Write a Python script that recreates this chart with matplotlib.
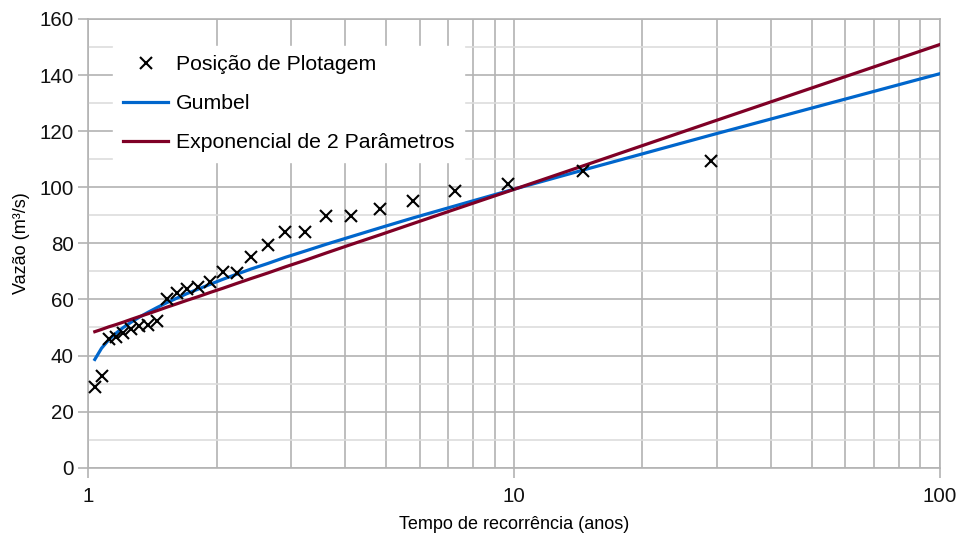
import matplotlib
matplotlib.use("Agg")
import matplotlib.pyplot as plt
from matplotlib.ticker import FixedLocator, NullFormatter, MultipleLocator
import numpy as np

plt.rcParams['font.family'] = ['Liberation Sans', 'DejaVu Sans']

# tempo de recorrencia (Weibull) e vazoes observadas, ordenadas
T_obs = [1.0357, 1.0741, 1.1154, 1.16, 1.2083, 1.2609, 1.3182, 1.381, 1.45,
         1.5263, 1.6111, 1.7059, 1.8125, 1.9333, 2.0714, 2.2308, 2.4167,
         2.6364, 2.9, 3.2222, 3.625, 4.1429, 4.8333, 5.8, 7.25, 9.6667,
         14.5, 29.0]
Q_obs = [28.9, 32.7, 45.8, 46.7, 48.1, 49.4, 50.5, 50.9, 52.3,
         60.1, 62.4, 63.6, 64.6, 66.3, 69.9, 69.6, 75.3,
         79.4, 84.2, 84.2, 89.8, 89.8, 92.2, 95.2, 98.8, 101.1,
         105.8, 109.3]

# curvas ajustadas
T_fit = T_obs + [100.0]
Q_gumbel = [38.6, 42.6, 45.5, 47.9, 50.0, 51.9, 53.7, 55.4, 57.1,
            58.8, 60.4, 62.1, 63.7, 65.4, 67.2, 69.0, 70.9,
            72.8, 75.0, 77.2, 79.7, 82.4, 85.5, 89.1, 93.3, 98.7,
            106.1, 118.6, 140.5]
Q_expo = [48.5, 49.3, 50.2, 51.0, 51.9, 52.9, 53.9, 54.9, 56.0,
          57.2, 58.4, 59.7, 61.0, 62.5, 64.0, 65.7, 67.5,
          69.4, 71.6, 73.9, 76.6, 79.6, 83.0, 87.1, 92.1, 98.5,
          107.6, 123.2, 150.9]

fig = plt.figure(figsize=(9.61, 5.36), dpi=100)
ax = fig.add_axes([0.0919, 0.1274, 0.8862, 0.8372])

ax.plot(T_obs, Q_obs, linestyle='none', marker='x', color='black',
        markersize=9, markeredgewidth=1.5, label='Posição de Plotagem', zorder=4)
ax.plot(T_fit, Q_gumbel, color='#0066cc', lw=2.3, label='Gumbel', zorder=3)
ax.plot(T_fit, Q_expo, color='#7f0026', lw=2.3,
        label='Exponencial de 2 Parâmetros', zorder=3)

ax.set_xscale('log')
ax.set_xlim(1, 100)
ax.set_ylim(0, 160)

ax.xaxis.set_major_locator(FixedLocator([1, 10, 100]))
ax.xaxis.set_major_formatter(matplotlib.ticker.FixedFormatter(['1', '10', '100']))
ax.xaxis.set_minor_locator(FixedLocator([k * d for d in (1, 10) for k in range(2, 10)]))
ax.xaxis.set_minor_formatter(NullFormatter())
ax.yaxis.set_major_locator(MultipleLocator(20))
ax.yaxis.set_minor_locator(MultipleLocator(10))

ax.grid(True, which='major', axis='both', color='#b3b3b3', lw=1.2)
ax.grid(True, which='minor', axis='x', color='#b3b3b3', lw=1.2)
ax.grid(True, which='minor', axis='y', color='#dddddd', lw=1.2)
ax.set_axisbelow(True)

for s in ax.spines.values():
    s.set_color('#b3b3b3')
    s.set_linewidth(1.2)

ax.tick_params(which='major', length=7, width=1.2, color='#b3b3b3',
               labelsize=14.8, labelcolor='#111111', direction='out')
ax.tick_params(which='minor', length=0)
ax.tick_params(axis='x', pad=7)

ax.set_xlabel('Tempo de recorrência (anos)', fontsize=13, labelpad=7)
ax.set_ylabel('Vazão (m³/s)', fontsize=13, labelpad=7)

leg = ax.legend(loc='upper left', bbox_to_anchor=(0.029, 0.94),
                borderaxespad=0, frameon=True, fontsize=15.3,
                handlelength=2.16, handletextpad=0.37, labelspacing=0.94,
                borderpad=0.45, fancybox=False)
leg.get_frame().set_facecolor('white')
leg.get_frame().set_edgecolor('white')
leg.get_frame().set_alpha(1.0)

fig.savefig('out.png', dpi=100)
